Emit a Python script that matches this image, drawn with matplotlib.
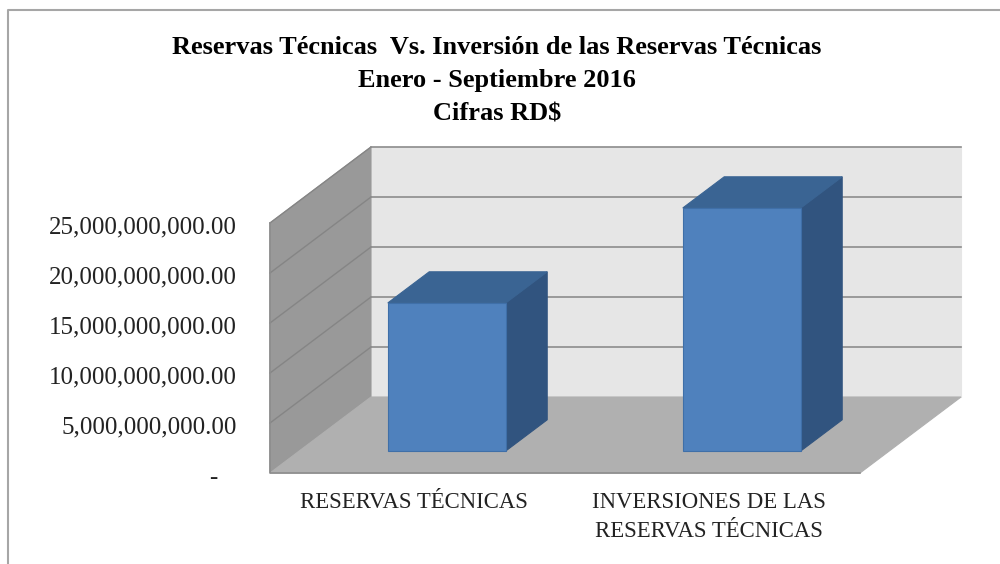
"""
Reservas tecnicas vs inversion, fake 3D columns like the Excel chart
"""
import matplotlib
matplotlib.use('Agg')
import matplotlib.pyplot as plt
from matplotlib.patches import Polygon
from matplotlib.transforms import ScaledTranslation

categories = ['RESERVAS TÉCNICAS', 'INVERSIONES DE LAS\nRESERVAS TÉCNICAS']
values = [14800000000, 24300000000]
y_ticks = [0, 5000000000, 10000000000, 15000000000, 20000000000, 25000000000]
y_tick_labels = ['-   ', '5,000,000,000.00', '10,000,000,000.00', '15,000,000,000.00',
                 '20,000,000,000.00', '25,000,000,000.00']
title = 'Reservas Técnicas  Vs. Inversión de las Reservas Técnicas\nEnero - Septiembre 2016\nCifras RD$'

W, H = 1000, 564
LEFT, RIGHT, BOTTOM, TOP = 270, 860, 473, 223    # front plane of the box, in pixels
DEPTH_X = 101 / (RIGHT - LEFT) * len(categories)    # how far the back wall is shifted, in x data units
DEPTH_Y = 76 / (BOTTOM - TOP) * y_ticks[-1]         # same thing in value units
BAR_W = 0.4
BAR_D0, BAR_D1 = 0.29, 0.70    # where the column sits between front (0) and back (1)


def proj(x, y, d):
    # x = category position, y = value, d = depth 0..1
    return x + d * DEPTH_X, y + d * DEPTH_Y


def face(ax, points, color, edge=None, lw=0.8, z=1):
    ax.add_patch(Polygon([proj(*p) for p in points], closed=True, facecolor=color,
                         edgecolor=edge if edge else color, linewidth=lw, zorder=z, clip_on=False))


def draw_box(ax):
    n = len(categories)
    top = y_ticks[-1]
    face(ax, [(0, 0, 1), (n, 0, 1), (n, top, 1), (0, top, 1)], '#e6e6e6', z=1)    # back wall
    face(ax, [(0, 0, 0), (0, 0, 1), (0, top, 1), (0, top, 0)], '#999999', z=1)    # left wall
    face(ax, [(0, 0, 0), (n, 0, 0), (n, 0, 1), (0, 0, 1)], '#b0b0b0', z=2)        # floor
    for v in y_ticks[1:]:
        xs, ys = zip(proj(0, v, 0), proj(0, v, 1))
        ax.plot(xs, ys, color='#858585', lw=1.0, zorder=2, clip_on=False)    # on the left wall
        xs, ys = zip(proj(0, v, 1), proj(n, v, 1))
        ax.plot(xs, ys, color='#8c8c8c', lw=1.2, zorder=2, clip_on=False)    # on the back wall
    # darker edge only along the front of the box
    xs, ys = zip(proj(0, top, 0), proj(0, 0, 0), proj(n, 0, 0))
    ax.plot(xs, ys, color='#8c8c8c', lw=1.2, zorder=3, clip_on=False)


def draw_column(ax, i, value):
    x0 = i + 0.5 - BAR_W / 2
    x1 = i + 0.5 + BAR_W / 2
    face(ax, [(x1, 0, BAR_D0), (x1, 0, BAR_D1), (x1, value, BAR_D1), (x1, value, BAR_D0)], '#31547f', z=4)
    face(ax, [(x0, value, BAR_D0), (x1, value, BAR_D0), (x1, value, BAR_D1), (x0, value, BAR_D1)], '#3a6493', z=4)
    face(ax, [(x0, 0, BAR_D0), (x1, 0, BAR_D0), (x1, value, BAR_D0), (x0, value, BAR_D0)], '#4f81bd',
         edge='#3f6fa8', z=5)


def graph():
    plt.rcParams['font.family'] = ['Liberation Serif', 'DejaVu Serif']
    fig = plt.figure(figsize=(W / 100, H / 100), dpi=100, facecolor='white')
    # axes covers just the front plane, the box sticks out of it on purpose
    ax = fig.add_axes([LEFT / W, 1 - BOTTOM / H, (RIGHT - LEFT) / W, (BOTTOM - TOP) / H])
    ax.set_xlim(0, len(categories))
    ax.set_ylim(0, y_ticks[-1])
    ax.patch.set_visible(False)
    for s in ax.spines.values():
        s.set_visible(False)

    draw_box(ax)
    for i, v in enumerate(values):
        draw_column(ax, i, v)

    ax.set_xticks([i + 0.487 for i in range(len(categories))], categories, fontsize=16.4, color='#222222',
                  linespacing=1.5)
    ax.set_yticks(y_ticks, y_tick_labels, fontsize=18, color='#222222')
    ax.tick_params(axis='x', length=0, pad=14)
    ax.tick_params(axis='y', length=0, pad=24)

    # labels sit a little under the gridline height in the original
    down = ScaledTranslation(0, -1.5 / 72, fig.dpi_scale_trans)
    for lab in ax.get_yticklabels():
        lab.set_transform(lab.get_transform() + down)

    fig.text(0.497, 1 - 36 / H, title, ha='center', va='top', fontsize=19, fontweight='bold',
             linespacing=1.58, color='black')

    # grey frame of the chart area
    fig.add_artist(plt.Line2D([8 / W, 8 / W, 1], [0, 1 - 10 / H, 1 - 10 / H], color='#a6a6a6', lw=1.5))

    fig.savefig('out.png', dpi=100)


if __name__ == '__main__':
    graph()
